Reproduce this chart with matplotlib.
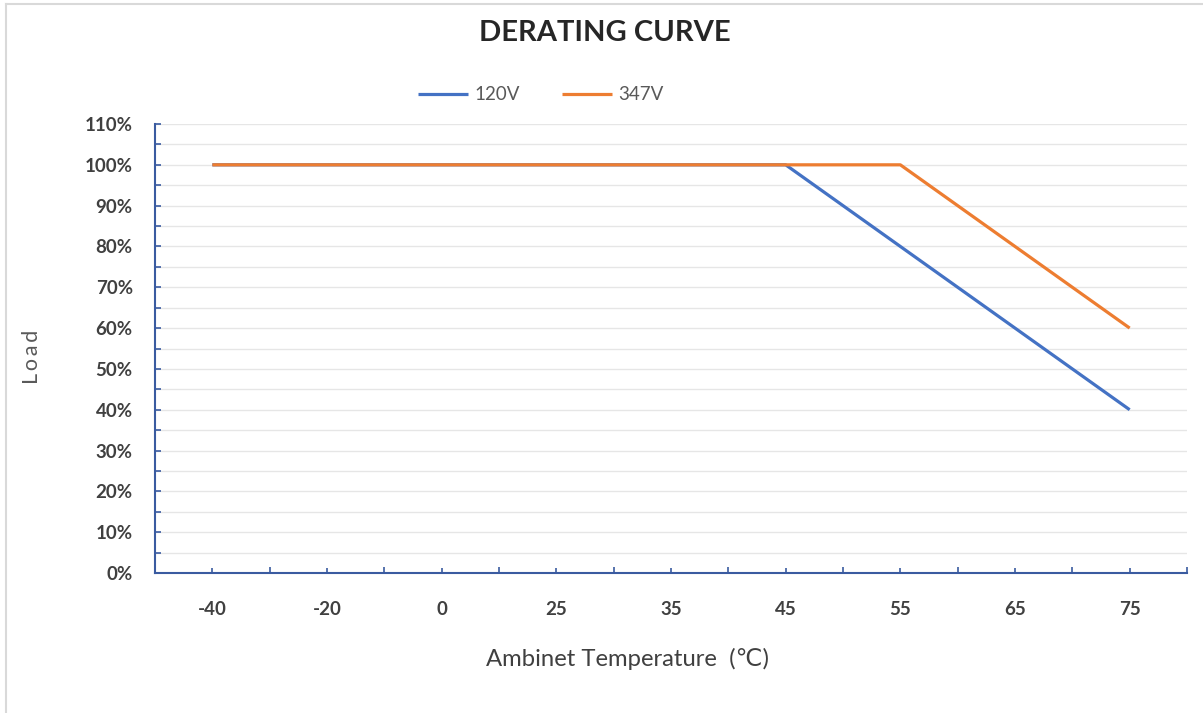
import matplotlib
matplotlib.use("Agg")
import matplotlib.pyplot as plt
from matplotlib.lines import Line2D
from matplotlib.ticker import FixedLocator, FuncFormatter

categories = ["-40", "-20", "0", "25", "35", "45", "55", "65", "75"]
load_120v = [100, 100, 100, 100, 100, 100, 80, 60, 40]
load_347v = [100, 100, 100, 100, 100, 100, 100, 80, 60]
series_names = ["120V", "347V"]
y_ticks = [0, 10, 20, 30, 40, 50, 60, 70, 80, 90, 100, 110]

FONT = ["Lato", "DejaVu Sans"]
plt.rcParams["font.family"] = FONT

W, H = 1203, 713
fig = plt.figure(figsize=(W / 100, H / 100), dpi=100)
ax = fig.add_axes([155 / W, 1 - 573 / H, (1187 - 155) / W, (573 - 124) / H])

x = list(range(len(categories)))
blue = "#4472C4"
orange = "#ED7D31"
ax.plot(x, load_120v, color=blue, lw=2.3, label=series_names[0], solid_capstyle="butt", zorder=3)
ax.plot(x, load_347v, color=orange, lw=2.3, label=series_names[1], solid_capstyle="butt", zorder=4)

ax.set_xlim(-0.5, len(categories) - 0.5)
ax.set_ylim(0, 110)

axis_col = "#3A5BA0"
for s in ["top", "right"]:
    ax.spines[s].set_visible(False)
for s in ["left", "bottom"]:
    ax.spines[s].set_color(axis_col)
    ax.spines[s].set_linewidth(1.5)

# gridlines every 5%
for v in range(5, 111, 5):
    ax.axhline(v, color="#E6E6E6", lw=1.0, zorder=1)

# y ticks
ax.yaxis.set_major_locator(FixedLocator(y_ticks))
ax.yaxis.set_minor_locator(FixedLocator([v for v in range(5, 111, 10)]))
ax.yaxis.set_major_formatter(FuncFormatter(lambda v, p: f"{int(v)}%"))
ax.tick_params(axis="y", which="both", direction="in", length=4.5, width=1.2, color=axis_col,
               pad=16, labelsize=13.5, labelcolor="#404040")

# x ticks: labels at centers, ticks at centers and boundaries
ax.set_xticks(x)
ax.set_xticklabels(categories)
ax.xaxis.set_minor_locator(FixedLocator([i - 0.5 for i in range(len(categories) + 1)]))
ax.tick_params(axis="x", which="major", direction="in", length=3.5, width=1.2, color=axis_col,
               pad=20, labelsize=13.5, labelcolor="#404040")
ax.tick_params(axis="x", which="minor", direction="in", length=4.5, width=1.2, color=axis_col)
for lab in ax.get_xticklabels() + ax.get_yticklabels():
    lab.set_fontweight("bold")

fig.text(32 / W, 1 - 357 / H, "L\u2009o\u2009a\u2009d", rotation=90, ha="center", va="center",
         fontsize=15.5, color="#595959", family=FONT)
fig.text(627 / W, 1 - 659 / H, "Ambinet Temperature  (\u2103)", ha="center", va="center",
         fontsize=17.2, color="#404040", family=FONT)
fig.text(605 / W, 1 - 33 / H, "DERATING CURVE", ha="center", va="center",
         fontsize=21, color="#262626", fontweight="bold")

# legend
leg = fig.legend(loc="center", bbox_to_anchor=(541 / W, 1 - 95 / H), ncol=2, frameon=False,
                 fontsize=13.5, handlelength=2.67, handletextpad=0.37, columnspacing=2.2)
for t in leg.get_texts():
    t.set_color("#595959")

# chart frame
fig.add_artist(Line2D([6 / W, 6 / W], [0, 1 - 4 / H], color="#D9D9D9", lw=1.5))
fig.add_artist(Line2D([6 / W, 1], [1 - 4 / H, 1 - 4 / H], color="#D9D9D9", lw=1.5))

fig.savefig("out.png", dpi=100)
